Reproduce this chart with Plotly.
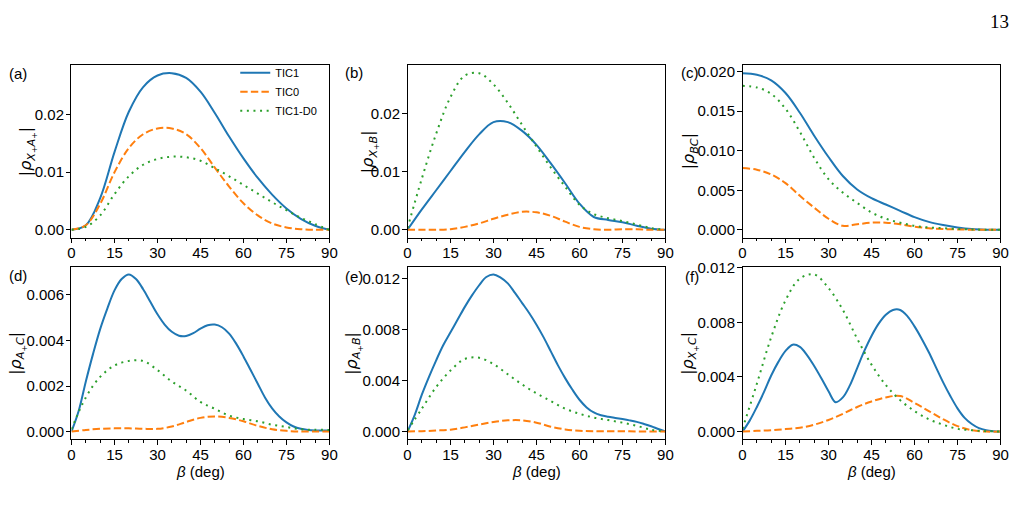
import plotly.graph_objects as go

W, H = 1023, 509

# ---------------- data ----------------
# (a) |rho_{X+A+}|
a_tic1_x = [0, 5, 10, 15, 20, 25, 30, 35, 40, 45, 50, 55, 60, 65, 70, 75, 80, 85, 90]
a_tic1_y = [0, 0.0008, 0.0055, 0.0135, 0.0205, 0.0248, 0.0268, 0.0272, 0.0264, 0.0240, 0.0203, 0.0162, 0.0124, 0.0090, 0.0061, 0.0037, 0.0019, 0.0007, 0]
a_tic0_x = [0, 5, 10, 15, 20, 25, 30, 35, 40, 45, 50, 55, 60, 65, 70, 75, 80, 85, 90]
a_tic0_y = [0, 0.0008, 0.0045, 0.0100, 0.0142, 0.0166, 0.0176, 0.0176, 0.0166, 0.0142, 0.0108, 0.0075, 0.0046, 0.0025, 0.0011, 0.0004, 0.0001, 0, 0]
a_d0_x = [0, 5, 10, 15, 20, 25, 30, 35, 40, 45, 50, 55, 60, 65, 70, 75, 80, 85, 90]
a_d0_y = [0, 0.0005, 0.0025, 0.0062, 0.0093, 0.0113, 0.0123, 0.0127, 0.0126, 0.0120, 0.0107, 0.0093, 0.0078, 0.0063, 0.0048, 0.0034, 0.0021, 0.0010, 0]

# (b) |rho_{X+B}|
b_tic1_x = [0, 5, 10, 15, 20, 25, 30, 35, 40, 45, 50, 55, 60, 65, 70, 75, 80, 85, 90]
b_tic1_y = [0, 0.0035, 0.0068, 0.0101, 0.0134, 0.0164, 0.0185, 0.0185, 0.0170, 0.0146, 0.0114, 0.0080, 0.0045, 0.0022, 0.0017, 0.0013, 0.0007, 0.0002, 0]
b_tic0_x = [0, 5, 10, 15, 20, 25, 30, 35, 40, 45, 50, 55, 60, 65, 70, 75, 80, 85, 90]
b_tic0_y = [0, 0, 0, 0.0001, 0.0005, 0.0011, 0.0019, 0.0026, 0.0031, 0.0030, 0.0024, 0.0014, 0.0005, 0.0001, 0, 0.0001, 0.0001, 0, 0]
b_d0_x = [0, 5, 10, 15, 20, 25, 30, 35, 40, 45, 50, 55, 60, 65, 70, 75, 80, 85, 90]
b_d0_y = [0.0003, 0.0088, 0.0165, 0.0228, 0.0265, 0.0269, 0.0250, 0.0218, 0.0180, 0.0143, 0.0107, 0.0074, 0.0043, 0.0027, 0.0020, 0.0015, 0.0009, 0.0003, 0]

# (c) |rho_{BC}|
c_tic1_x = [0, 5, 10, 15, 20, 25, 30, 35, 40, 45, 50, 55, 60, 65, 70, 75, 80, 85, 90]
c_tic1_y = [0.0198, 0.0196, 0.0189, 0.0173, 0.0148, 0.0119, 0.0092, 0.0068, 0.0051, 0.0040, 0.0032, 0.0024, 0.0016, 0.0010, 0.0006, 0.0003, 0.0001, 0.00002, 0]
c_tic0_x = [0, 5, 10, 15, 20, 25, 30, 35, 40, 45, 50, 55, 60, 65, 70, 75, 80, 85, 90]
c_tic0_y = [0.0078, 0.0076, 0.0070, 0.0059, 0.0043, 0.0028, 0.0014, 0.0005, 0.0007, 0.0009, 0.0009, 0.0007, 0.0004, 0.0002, 0.0001, 0.00005, 0, 0, 0]
c_d0_x = [0, 5, 10, 15, 20, 25, 30, 35, 40, 45, 50, 55, 60, 65, 70, 75, 80, 85, 90]
c_d0_y = [0.0182, 0.0180, 0.0172, 0.0153, 0.0124, 0.0091, 0.0064, 0.0047, 0.0034, 0.0022, 0.0014, 0.0009, 0.0005, 0.0003, 0.0002, 0.0001, 0.00005, 0, 0]

# (d) |rho_{A+C}|
d_tic1_x = [0, 2.5, 5, 7.5, 10, 12.5, 15, 17.5, 20, 22.5, 25, 27.5, 30, 32.5, 35, 37.5, 40, 42.5, 45,
            47.5, 50, 52.5, 55, 57.5, 60, 62.5, 65, 67.5, 70, 72.5, 75, 77.5, 80, 82.5, 85, 87.5, 90]
d_tic1_y = [0, 0.0009, 0.0022, 0.0034, 0.0045, 0.0054, 0.0062, 0.0067, 0.0069, 0.0067, 0.00625, 0.0057, 0.00515,
            0.0047, 0.00438, 0.00421, 0.0042, 0.00432, 0.00452, 0.00467, 0.0047, 0.00458, 0.0043, 0.00385, 0.0033,
            0.0027, 0.0021, 0.0015, 0.00102, 0.00066, 0.0004, 0.00022, 0.00012, 0.00007, 0.00005, 0.00005, 0.00005]
d_tic0_x = [0, 5, 10, 15, 20, 25, 30, 35, 40, 45, 50, 55, 60, 65, 70, 75, 80, 85, 90]
d_tic0_y = [0, 0.00007, 0.00012, 0.00014, 0.00014, 0.00012, 0.00012, 0.00022, 0.00042, 0.0006, 0.00066, 0.0006, 0.00045, 0.00025, 0.0001, 0.00003, 0, 0, 0]
d_d0_x = [0, 5, 10, 15, 20, 25, 30, 35, 40, 45, 50, 55, 60, 65, 70, 75, 80, 85, 90]
d_d0_y = [0.0001, 0.0015, 0.0024, 0.0029, 0.0031, 0.0031, 0.0027, 0.0022, 0.0018, 0.0013, 0.0010, 0.0007, 0.00055, 0.00045, 0.0003, 0.0002, 0.0001, 0.00008, 0.00007]

# (e) |rho_{A+B}|
e_tic1_x = [0, 2.5, 5, 7.5, 10, 12.5, 15, 17.5, 20, 22.5, 25, 27.5, 30, 32.5, 35, 37.5, 40, 42.5, 45,
            47.5, 50, 52.5, 55, 57.5, 60, 62.5, 65, 67.5, 70, 72.5, 75, 77.5, 80, 82.5, 85, 87.5, 90]
e_tic1_y = [0, 0.0013, 0.0029, 0.0043, 0.0056, 0.0068, 0.0078, 0.0088, 0.0098, 0.0107, 0.0115, 0.01215, 0.01235,
            0.0121, 0.01165, 0.0109, 0.0101, 0.0093, 0.0084, 0.0074, 0.0063, 0.0052, 0.0042, 0.0033, 0.0025,
            0.0019, 0.0015, 0.00128, 0.00116, 0.00107, 0.00098, 0.00088, 0.00076, 0.0006, 0.00042, 0.0002, 0]
e_tic0_x = [0, 5, 10, 15, 20, 25, 30, 35, 40, 45, 50, 55, 60, 65, 70, 75, 80, 85, 90]
e_tic0_y = [0, 0.00003, 0.00008, 0.00015, 0.00033, 0.00055, 0.00075, 0.00088, 0.00088, 0.0007, 0.00038, 0.00017, 0.00006, 0.00003, 0.00002, 0.00002, 0.00001, 0, 0]
e_d0_x = [0, 5, 10, 15, 20, 25, 30, 35, 40, 45, 50, 55, 60, 65, 70, 75, 80, 85, 90]
e_d0_y = [0.0001, 0.0018, 0.0035, 0.0048, 0.0057, 0.0058, 0.0053, 0.0045, 0.0037, 0.0030, 0.0024, 0.0018, 0.0014, 0.0011, 0.0009, 0.0007, 0.00045, 0.00015, 0]

# (f) |rho_{X+C}|
f_tic1_x = [0, 2.5, 5, 7.5, 10, 12.5, 15, 17.5, 20, 22.5, 25, 27.5, 30, 32.5, 35, 37.5, 40, 42.5, 45,
            47.5, 50, 52.5, 55, 57.5, 60, 62.5, 65, 67.5, 70, 72.5, 75, 77.5, 80, 82.5, 85, 87.5, 90]
f_tic1_y = [0, 0.0008, 0.0018, 0.0029, 0.0041, 0.0051, 0.0059, 0.00636, 0.0062, 0.0056, 0.0048, 0.0039, 0.00295,
            0.00215, 0.0025, 0.0034, 0.00465, 0.0059, 0.0070, 0.0079, 0.00855, 0.0089, 0.0089, 0.00845, 0.0077,
            0.0068, 0.0058, 0.0047, 0.0036, 0.0026, 0.0017, 0.0010, 0.00055, 0.00025, 0.0001, 0.00003, 0]
f_tic0_x = [0, 5, 10, 15, 20, 25, 30, 35, 40, 45, 50, 55, 60, 65, 70, 75, 80, 85, 90]
f_tic0_y = [0, 0.00005, 0.0001, 0.00018, 0.00028, 0.0005, 0.00085, 0.0013, 0.0018, 0.0022, 0.0025, 0.0026, 0.0021, 0.0015, 0.0009, 0.0004, 0.0001, 0, 0]
f_d0_x = [0, 5, 10, 15, 20, 25, 30, 35, 40, 45, 50, 55, 60, 65, 70, 75, 80, 85, 90]
f_d0_y = [0.0002, 0.0035, 0.0069, 0.0096, 0.0112, 0.0115, 0.0105, 0.0089, 0.0068, 0.0049, 0.0034, 0.0023, 0.0015, 0.0009, 0.0005, 0.0002, 0.0001, 0.00003, 0]

series_names = ["TIC1", "TIC0", "TIC1-D0"]
panel_labels = ["(a)", "(b)", "(c)", "(d)", "(e)", "(f)"]
y_titles = [
    "|<i>ρ</i><sub><i>X</i><sub>+</sub><i>A</i><sub>+</sub></sub>|",
    "|<i>ρ</i><sub><i>X</i><sub>+</sub><i>B</i></sub>|",
    "|<i>ρ</i><sub><i>BC</i></sub>|",
    "|<i>ρ</i><sub><i>A</i><sub>+</sub><i>C</i></sub>|",
    "|<i>ρ</i><sub><i>A</i><sub>+</sub><i>B</i></sub>|",
    "|<i>ρ</i><sub><i>X</i><sub>+</sub><i>C</i></sub>|",
]
y_dticks = [0.01, 0.01, 0.005, 0.002, 0.004, 0.004]
y_formats = [".2f", ".2f", ".3f", ".3f", ".3f", ".3f"]
x_ticks = [0, 15, 30, 45, 60, 75, 90]
x_title = "<i>β</i> (deg)"
page_number = "13"

panels = [
    [(a_tic1_x, a_tic1_y), (a_tic0_x, a_tic0_y), (a_d0_x, a_d0_y)],
    [(b_tic1_x, b_tic1_y), (b_tic0_x, b_tic0_y), (b_d0_x, b_d0_y)],
    [(c_tic1_x, c_tic1_y), (c_tic0_x, c_tic0_y), (c_d0_x, c_d0_y)],
    [(d_tic1_x, d_tic1_y), (d_tic0_x, d_tic0_y), (d_d0_x, d_d0_y)],
    [(e_tic1_x, e_tic1_y), (e_tic0_x, e_tic0_y), (e_d0_x, e_d0_y)],
    [(f_tic1_x, f_tic1_y), (f_tic0_x, f_tic0_y), (f_d0_x, f_d0_y)],
]

# ---------------- styling ----------------
colors = ["#1f77b4", "#ff7f0e", "#2ca02c"]
dashes = ["solid", "7.4px,3.2px", "2px,4.6px"]
FONT = "Liberation Sans, Arial, sans-serif"
MATHFONT = "DejaVu Sans, sans-serif"

col_px = [(68.3, 329.3), (408.3, 669.3), (747.3, 1008.3)]
row_px = [(58.3, 233.3), (262.7, 438.3)]
ytitle_px = [24, 370, 694, 14, 354, 694]
plabel_px = [(14, 67), (354, 66), (694, 66), (14, 272), (354, 273), (696, 273)]

fig = go.Figure()
layout = dict(
    width=W, height=H,
    margin=dict(l=0, r=0, t=0, b=0),
    paper_bgcolor="white", plot_bgcolor="white",
    font=dict(family=FONT, size=15, color="black"),
    showlegend=True,
    legend=dict(x=234 / W, y=1 - 51 / H, xanchor="left", yanchor="top",
                bgcolor="rgba(0,0,0,0)", font=dict(size=11, family=FONT),
                tracegroupgap=0),
)
annotations = []

for i, curves in enumerate(panels):
    r, c = divmod(i, 3)
    k = "" if i == 0 else str(i + 1)
    xa, ya = "x" + k, "y" + k
    allv = [v for (_, ys) in curves for v in ys]
    lo, hi = min(allv), max(allv)
    pad = 0.05 * (hi - lo)
    for j, (xs, ys) in enumerate(curves):
        fig.add_trace(go.Scatter(
            x=xs, y=ys, mode="lines", name=series_names[j],
            line=dict(color=colors[j], width=2, dash=dashes[j], shape="spline", smoothing=1.0),
            xaxis=xa, yaxis=ya, showlegend=(i == 0), hoverinfo="skip",
        ))
    x0, x1 = col_px[c]
    y0, y1 = row_px[r]
    layout["xaxis" + k] = dict(
        domain=[x0 / W, x1 / W], anchor=ya, range=[0, 90],
        tickvals=x_ticks, ticks="outside", ticklen=4.5, tickwidth=1, tickcolor="black",
        showline=True, linecolor="black", linewidth=1, mirror=True,
        showgrid=False, zeroline=False, tickfont=dict(size=15), ticklabelstandoff=-3,
        minor=dict(dtick=5, ticks="outside", ticklen=2.5, tickwidth=1, tickcolor="black", showgrid=False),
    )
    layout["yaxis" + k] = dict(
        domain=[1 - y1 / H, 1 - y0 / H], anchor=xa, range=[lo - pad, hi + pad],
        tick0=0, dtick=y_dticks[i], tickformat=y_formats[i],
        ticks="outside", ticklen=4.5, tickwidth=1, tickcolor="black",
        showline=True, linecolor="black", linewidth=1, mirror=True,
        showgrid=False, zeroline=False, tickfont=dict(size=15), ticklabelstandoff=-1,
    )
    annotations.append(dict(
        text=y_titles[i], textangle=-90, xref="paper", yref=ya + " domain",
        x=ytitle_px[i] / W, y=0.5, xanchor="center", yanchor="middle",
        showarrow=False, font=dict(size=16, family=MATHFONT),
    ))
    px, py = plabel_px[i]
    annotations.append(dict(
        text=panel_labels[i], xref="paper", yref="paper",
        x=px / W, y=1 - py / H, xanchor="center", yanchor="middle",
        showarrow=False, font=dict(size=15, family=FONT),
    ))
    if r == 1:
        annotations.append(dict(
            text=x_title, xref=xa + " domain", yref="paper",
            x=0.5, y=1 - 471 / H, xanchor="center", yanchor="middle",
            showarrow=False, font=dict(size=15, family=FONT),
        ))

annotations.append(dict(
    text=page_number, xref="paper", yref="paper", x=1007 / W, y=1 - 14 / H,
    xanchor="center", yanchor="middle", showarrow=False,
    font=dict(size=19, family="Liberation Serif, DejaVu Serif, serif"),
))
layout["annotations"] = annotations
fig.update_layout(**layout)
fig.write_html("out.html")
